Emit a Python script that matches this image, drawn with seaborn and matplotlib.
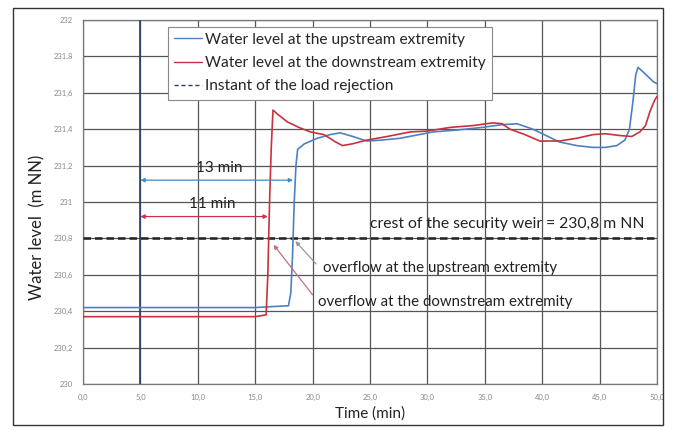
import numpy as np
import pandas as pd
import seaborn as sns
import matplotlib.pyplot as plt
from matplotlib.lines import Line2D
from matplotlib.patches import Rectangle

# ---- data ----
t_up = [0, 5, 10, 15, 17.9, 18.1, 18.25, 18.4, 18.55, 18.7, 19.3, 20.4, 21.5, 22.4, 23.5, 24.7,
        26.0, 27.6, 30.5, 32.5, 34.8, 36.5, 37.8, 39.2, 40.5, 41.5, 43.0, 44.4, 45.5, 46.5,
        47.2, 47.6, 47.9, 48.15, 48.35, 48.7, 49.2, 49.7, 50.0]
h_up = [230.42, 230.42, 230.42, 230.42, 230.43, 230.5, 230.7, 231.0, 231.2, 231.29, 231.32, 231.35, 231.37, 231.38, 231.36, 231.335,
        231.34, 231.35, 231.385, 231.395, 231.41, 231.425, 231.43, 231.40, 231.36, 231.33, 231.31, 231.30, 231.30, 231.31,
        231.34, 231.40, 231.55, 231.70, 231.74, 231.72, 231.69, 231.66, 231.65]

t_down = [0, 5, 10, 15, 15.95, 16.1, 16.25, 16.4, 16.55, 17.0, 17.8, 18.8, 19.8, 21.0, 22.0, 22.6, 23.5, 24.7,
          26.5, 28.5, 30.0, 32.0, 34.0, 35.7, 36.5, 37.2, 38.5, 39.8, 41.5, 43.0, 44.4, 45.5,
          46.8, 47.8, 48.5, 49.0, 49.4, 49.8, 50.0]
h_down = [230.37, 230.37, 230.37, 230.37, 230.38, 230.6, 231.0, 231.3, 231.505, 231.48, 231.44, 231.41, 231.385, 231.37, 231.33, 231.31, 231.32, 231.34,
          231.36, 231.385, 231.39, 231.41, 231.42, 231.435, 231.43, 231.40, 231.37, 231.335, 231.335, 231.35, 231.37, 231.375,
          231.365, 231.36, 231.385, 231.42, 231.50, 231.56, 231.58]

x_ticks = [0, 5, 10, 15, 20, 25, 30, 35, 40, 45, 50]
x_labels = ["0,0", "5,0", "10,0", "15,0", "20,0", "25,0", "30,0", "35,0", "40,0", "45,0", "50,0"]
y_ticks = [230.0, 230.2, 230.4, 230.6, 230.8, 231.0, 231.2, 231.4, 231.6, 231.8, 232.0]
y_labels = ["230", "230,2", "230,4", "230,6", "230,8", "231", "231,2", "231,4", "231,6", "231,8", "232"]

t_rejection = 5.0
crest = 230.8

lab_up = "Water level at the upstream extremity"
lab_down = "Water level at the downstream extremity"
lab_rej = "Instant of the load rejection"

df_up = pd.DataFrame({"t": t_up, "h": h_up})
df_down = pd.DataFrame({"t": t_down, "h": h_down})

sns.set_theme(style="white")
plt.rcParams['font.family'] = ['Lato', 'DejaVu Sans']

fig = plt.figure(figsize=(6.76, 4.34), dpi=100)
ax = fig.add_axes([83/676, 1 - 384/434, 574/676, 364/434])

# figure frame
fig.patches.append(Rectangle((13/676, 1 - 425/434), 650/676, 417/434, transform=fig.transFigure,
                             fill=False, edgecolor="#333333", linewidth=1.0))

blue = "#5080C0"
red = "#C8323C"

ax.set_xlim(0, 50)
ax.set_ylim(230, 232)
ax.set_xticks(x_ticks)
ax.set_xticklabels(x_labels)
ax.set_yticks(y_ticks)
ax.set_yticklabels(y_labels)
ax.tick_params(axis="both", labelsize=5.5, colors="#888888", length=0, pad=7)
ax.grid(True, color="#555555", linewidth=0.9)
for s in ax.spines.values():
    s.set_color("#777777")
    s.set_linewidth(0.9)

ax.axvline(t_rejection, color="#2A3F6E", linewidth=1.2, zorder=3)
ax.axhline(crest, color="#222222", linewidth=1.8, linestyle=(0, (3, 1.6)), zorder=3)

sns.lineplot(data=df_up, x="t", y="h", ax=ax, color=blue, linewidth=1.2, zorder=4)
sns.lineplot(data=df_down, x="t", y="h", ax=ax, color=red, linewidth=1.2, zorder=4)

ax.set_xlabel("Time (min)", fontsize=11, color="#222222", labelpad=4)
ax.set_ylabel("Water level  (m NN)", fontsize=12, color="#222222")
ax.yaxis.set_label_coords(-0.066, 0.43)

# duration arrows
ax.annotate("", xy=(18.3, 231.12), xytext=(5.0, 231.12),
            arrowprops=dict(arrowstyle="<|-|>", color="#3A8FC8", lw=0.9, mutation_scale=6,
                            shrinkA=0, shrinkB=0), zorder=5)
ax.text(11.9, 231.15, "13 min", fontsize=11, ha="center", va="bottom", color="#222222")
ax.annotate("", xy=(16.1, 230.92), xytext=(5.0, 230.92),
            arrowprops=dict(arrowstyle="<|-|>", color="#D0304A", lw=0.9, mutation_scale=6,
                            shrinkA=0, shrinkB=0), zorder=5)
ax.text(11.3, 230.95, "11 min", fontsize=11, ha="center", va="bottom", color="#222222")

ax.text(25.0, 230.84, "crest of the security weir = 230,8 m NN", fontsize=11.3,
        ha="left", va="bottom", color="#222222")

# overflow annotations
ax.annotate("", xy=(18.5, 230.785), xytext=(20.3, 230.66),
            arrowprops=dict(arrowstyle="-|>", color="#999999", lw=0.9, mutation_scale=6,
                            shrinkA=0, shrinkB=0), zorder=5)
ax.text(20.9, 230.635, "overflow at the upstream extremity", fontsize=10.8,
        ha="left", va="center", color="#222222")
ax.annotate("", xy=(16.6, 230.765), xytext=(20.0, 230.49),
            arrowprops=dict(arrowstyle="-|>", color="#C07080", lw=0.9, mutation_scale=6,
                            shrinkA=0, shrinkB=0), zorder=5)
ax.text(20.5, 230.45, "overflow at the downstream extremity", fontsize=10.8,
        ha="left", va="center", color="#222222")

handles = [Line2D([], [], color=blue, lw=1.0),
           Line2D([], [], color=red, lw=1.0),
           Line2D([], [], color="#2A3F6E", lw=1.0, linestyle=(0, (3, 2)))]
leg = ax.legend(handles, [lab_up, lab_down, lab_rej], loc="upper left",
                bbox_to_anchor=(0.148, 0.982), fontsize=11.2, frameon=True, fancybox=False,
                edgecolor="#888888", framealpha=1, handlelength=1.8, handletextpad=0.2,
                labelspacing=0.6, borderpad=0.4, borderaxespad=0)
leg.get_frame().set_linewidth(0.8)
leg.set_zorder(6)

fig.savefig("out.png", dpi=100)
